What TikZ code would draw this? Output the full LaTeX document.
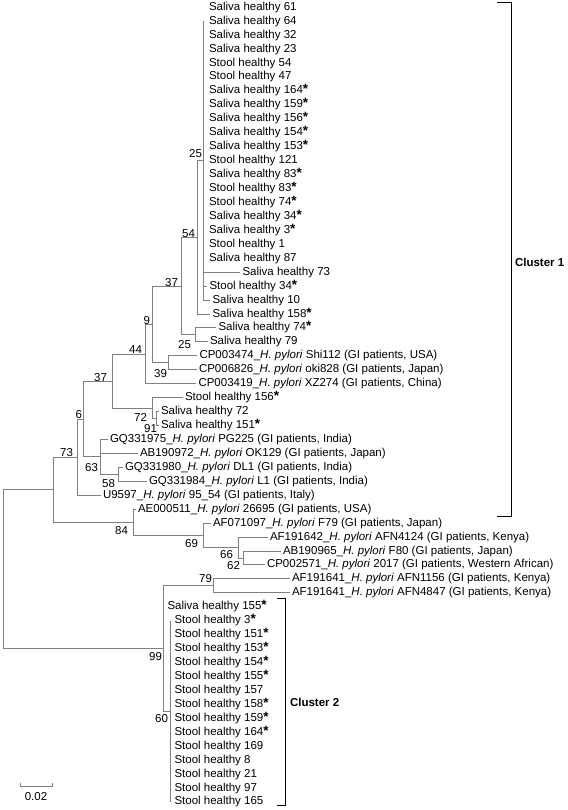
\documentclass[tikz,border=0pt]{standalone}
\usepackage{fontspec}
\setmainfont{Liberation Sans}
\newcommand{\hpy}{\_\textit{H.~pylori}}
\newcommand{\sig}{{\fontsize{13.5}{13}\selectfont\bfseries*}}
\begin{document}
\begin{tikzpicture}[x=1pt,y=-1pt,%
    every node/.style={%
      inner sep=0pt,outer sep=0pt,font=\fontsize{11.5}{13}\selectfont},
    lf/.style={anchor=west,inner sep=2.5pt,text height=8.4pt,text depth=2.4pt},
    zl/.style={lf,inner xsep=5.5pt},
    zc/.style={lf,inner xsep=4.5pt},
    bs/.style={anchor=east,text height=8.2pt,text depth=0pt},
    br/.style={draw=black!50,line width=1pt},
    bk/.style={draw,line width=1pt}
    ]
    \useasboundingbox (0,0) rectangle (567,810);
    \node[zl] at(203.5,7.3)(sa61){Saliva healthy 61};
    \node[zl] at(203.5,21.2)(sa64){Saliva healthy 64};
    \node[zl] at(203.5,35.2)(sa32){Saliva healthy 32};
    \node[zl] at(203.5,49.1)(sa23){Saliva healthy 23};
    \node[zl] at(203.5,63.1)(st54){Stool healthy 54};
    \node[zl] at(203.5,77.0)(st47){Stool healthy 47};
    \node[zl] at(203.5,90.9)(sa164){Saliva healthy 164\sig};
    \node[zl] at(203.5,104.9)(sa159){Saliva healthy 159\sig};
    \node[zl] at(203.5,118.8)(sa156){Saliva healthy 156\sig};
    \node[zl] at(203.5,132.8)(sa154){Saliva healthy 154\sig};
    \node[zl] at(203.5,146.7)(sa153){Saliva healthy 153\sig};
    \node[zl] at(203.5,160.6)(st121){Stool healthy 121};
    \node[zl] at(203.5,174.6)(sa83){Saliva healthy 83\sig};
    \node[zl] at(203.5,188.5)(st83){Stool healthy 83\sig};
    \node[zl] at(203.5,202.5)(st74){Stool healthy 74\sig};
    \node[zl] at(203.5,216.4)(sa34){Saliva healthy 34\sig};
    \node[zl] at(203.5,230.3)(sa3){Saliva healthy 3\sig};
    \node[zl] at(203.5,244.3)(st1){Stool healthy 1};
    \node[zl] at(203.5,258.2)(sa87){Saliva healthy 87};
    \node[lf] at(240,272.2)(sa73){Saliva healthy 73};
    \node[lf] at(207,286.1)(st34){Stool healthy 34\sig};
    \node[lf] at(210,300.0)(sa10){Saliva healthy 10};
    \node[lf] at(210,314.0)(sa158){Saliva healthy 158\sig};
    \node[lf] at(216,327.9)(sa74){Saliva healthy 74\sig};
    \node[lf] at(207.5,341.9)(sa79){Saliva healthy 79};
    \node[lf] at(197,355.8)(cp3474){CP003474\hpy{} Shi112 (GI patients, USA)};
    \node[lf] at(196.5,369.7)(cp6826){CP006826\hpy{} oki828 (GI patients, Japan)};
    \node[lf] at(196,383.7)(cp3419){CP003419\hpy{} XZ274 (GI patients, China)};
    \node[lf] at(182.5,397.6)(st156){Stool healthy 156\sig};
    \node[lf] at(158.5,411.6)(sa72){Saliva healthy 72};
    \node[lf] at(158.5,425.5)(sa151){Saliva healthy 151\sig};
    \node[lf] at(107.5,439.4)(gq1975){GQ331975\hpy{} PG225 (GI patients, India)};
    \node[lf] at(137.5,453.4)(ab0972){AB190972\hpy{} OK129 (GI patients, Japan)};
    \node[lf] at(122.5,467.3)(gq1980){GQ331980\hpy{} DL1 (GI patients, India)};
    \node[lf] at(146.5,481.3)(gq1984){GQ331984\hpy{} L1 (GI patients, India)};
    \node[lf] at(100.5,495.2)(u9597){U9597\hpy{} 95\_54 (GI patients, Italy)};
    \node[lf] at(135.5,509.1)(ae0511){AE000511\hpy{} 26695 (GI patients, USA)};
    \node[lf] at(210.5,523.1)(af1097){AF071097\hpy{} F79 (GI patients, Japan)};
    \node[lf] at(267.5,537.0)(af1642){AF191642\hpy{} AFN4124 (GI patients, Kenya)};
    \node[lf] at(280.5,551.0)(ab0965){AB190965\hpy{} F80 (GI patients, Japan)};
    \node[lf] at(264.5,564.9)(cp2571){CP002571\hpy{} 2017 (GI patients, Western African)};
    \node[lf] at(289.5,578.8)(af1156){AF191641\hpy{} AFN1156 (GI patients, Kenya)};
    \node[lf] at(289.5,592.8)(af4847){AF191641\hpy{} AFN4847 (GI patients, Kenya)};
    \node[zc] at(163,606.7)(sa155){Saliva healthy 155\sig};
    \node[zc] at(170,620.7)(st3){Stool healthy 3\sig};
    \node[zc] at(170,634.6)(st151){Stool healthy 151\sig};
    \node[zc] at(170,648.5)(st153){Stool healthy 153\sig};
    \node[zc] at(170,662.5)(st154){Stool healthy 154\sig};
    \node[zc] at(170,676.4)(st155){Stool healthy 155\sig};
    \node[zc] at(170,690.4)(st157){Stool healthy 157};
    \node[zc] at(170,704.3)(st158){Stool healthy 158\sig};
    \node[zc] at(170,718.2)(st159){Stool healthy 159\sig};
    \node[zc] at(170,732.2)(st164){Stool healthy 164\sig};
    \node[zc] at(170,746.1)(st169){Stool healthy 169};
    \node[zc] at(170,760.1)(st8){Stool healthy 8};
    \node[zc] at(170,774.0)(st21){Stool healthy 21};
    \node[zc] at(170,788.0)(st97){Stool healthy 97};
    \node[zc] at(170,801.9)(st165){Stool healthy 165};
    \coordinate (n25a) at (203.5,160.6);
    \coordinate (n54) at (197,237.3);
    \coordinate (n25b) at (195,334.9);
    \coordinate (n37a) at (181,286.1);
    \coordinate (n39) at (168,362.8);
    \coordinate (n9) at (152,324.5);
    \coordinate (n44) at (145,354.1);
    \coordinate (n91) at (156,418.6);
    \coordinate (n72) at (152,408.1);
    \coordinate (n37b) at (112,381.1);
    \coordinate (n58) at (118,474.3);
    \coordinate (n63) at (100.7,456.9);
    \coordinate (n6) at (83,419.0);
    \coordinate (n73) at (77,457.1);
    \coordinate (nb) at (53,489.7);
    \coordinate (n62) at (243,558.0);
    \coordinate (n66) at (238,547.5);
    \coordinate (n69) at (203,535.3);
    \coordinate (n84) at (133,522.2);
    \coordinate (n79) at (213,585.8);
    \coordinate (n60) at (170,711.3);
    \coordinate (n99) at (163,648.6);
    \coordinate (root) at (3,569.2);
    \draw[br](root)|-(nb) (root)|-(n99);
    \draw[br](nb)|-(n73) (nb)|-(n84);
    \draw[br](n73)|-(n6) (n73)|-(u9597.west);
    \draw[br](n6)|-(n37b) (n6)|-(n63);
    \draw[br](n37b)|-(n44) (n37b)|-(n72);
    \draw[br](n44)|-(n9) (n44)|-(cp3419.west);
    \draw[br](n9)|-(n37a) (n9)|-(n39);
    \draw[br](n39)|-(cp3474.west) (n39)|-(cp6826.west);
    \draw[br](n37a)|-(n54) (n37a)|-(n25b);
    \draw[br](n25b)|-(sa74.west) (n25b)|-(sa79.west);
    \draw[br](n54)|-(n25a) (n54)|-(sa158.west);
    \draw[br](n25a)|-(sa64.west) (n25a)|-(sa32.west) (n25a)|-(sa23.west)
    (n25a)|-(st54.west) (n25a)|-(st47.west) (n25a)|-(sa164.west)
    (n25a)|-(sa159.west) (n25a)|-(sa156.west) (n25a)|-(sa154.west)
    (n25a)|-(sa153.west) (n25a)|-(st121.west) (n25a)|-(sa83.west)
    (n25a)|-(st83.west) (n25a)|-(st74.west) (n25a)|-(sa34.west)
    (n25a)|-(sa3.west) (n25a)|-(st1.west) (n25a)|-(sa87.west)
    (n25a)|-(sa73.west) (n25a)|-(st34.west) (n25a)|-(sa10.west);
    \draw[br](n72)|-(st156.west) (n72)|-(n91);
    \draw[br](n91)|-(sa72.west) (n91)|-(sa151.west);
    \draw[br](n63)|-(gq1975.west) (n63)|-(ab0972.west) (n63)|-(n58);
    \draw[br](n58)|-(gq1980.west) (n58)|-(gq1984.west);
    \draw[br](n84)|-(ae0511.west) (n84)|-(n69);
    \draw[br](n69)|-(af1097.west) (n69)|-(n66);
    \draw[br](n66)|-(af1642.west) (n66)|-(n62);
    \draw[br](n62)|-(ab0965.west) (n62)|-(cp2571.west);
    \draw[br](n99)|-(n79) (n99)|-(sa155.west) (n99)|-(n60);
    \draw[br](n79)|-(af1156.west) (n79)|-(af4847.west);
    \draw[br](n60)|-(st3.west) (n60)|-(st151.west) (n60)|-(st153.west)
    (n60)|-(st154.west) (n60)|-(st155.west) (n60)|-(st157.west)
    (n60)|-(st158.west) (n60)|-(st159.west) (n60)|-(st164.west)
    (n60)|-(st169.west) (n60)|-(st8.west) (n60)|-(st21.west)
    (n60)|-(st97.west) (n60)|-(st165.west);
    \node[bs] at(202,153)(b25a){25};
    \node[bs] at(195,233)(b54){54};
    \node[bs] at(178,282)(b37a){37};
    \node[bs] at(150,320)(b9){9};
    \node[bs] at(142,349)(b44){44};
    \node[bs] at(167,373)(b39){39};
    \node[bs] at(191,344)(b25b){25};
    \node[bs] at(107,377)(b37b){37};
    \node[bs] at(147,417)(b72){72};
    \node[bs] at(157,428)(b91){91};
    \node[bs] at(82,414)(b6){6};
    \node[bs] at(73,452)(b73){73};
    \node[bs] at(98,467)(b63){63};
    \node[bs] at(115,483)(b58){58};
    \node[bs] at(128,530)(b84){84};
    \node[bs] at(198,543)(b69){69};
    \node[bs] at(233,554)(b66){66};
    \node[bs] at(240,565)(b62){62};
    \node[bs] at(212,578)(b79){79};
    \node[bs] at(162,656)(b99){99};
    \node[bs] at(168,718)(b60){60};
    \draw[bk](497,3)--(511.5,3)--(511.5,516)--(497,516);
    \node[anchor=west,font=\fontsize{11.5}{13}\selectfont\bfseries]
    at(515,262)(cl1){Cluster 1};
    \draw[bk](277,598)--(285,598)--(285,805)--(277,805);
    \node[anchor=west,font=\fontsize{11.5}{13}\selectfont\bfseries]
    at(290,702)(cl2){Cluster 2};
    \draw[br](20,782.5)--(20,786)--(52,786)--(52,782.5);
    \node at(36,797)(sc){0.02};
  \end{tikzpicture}
\end{document}
